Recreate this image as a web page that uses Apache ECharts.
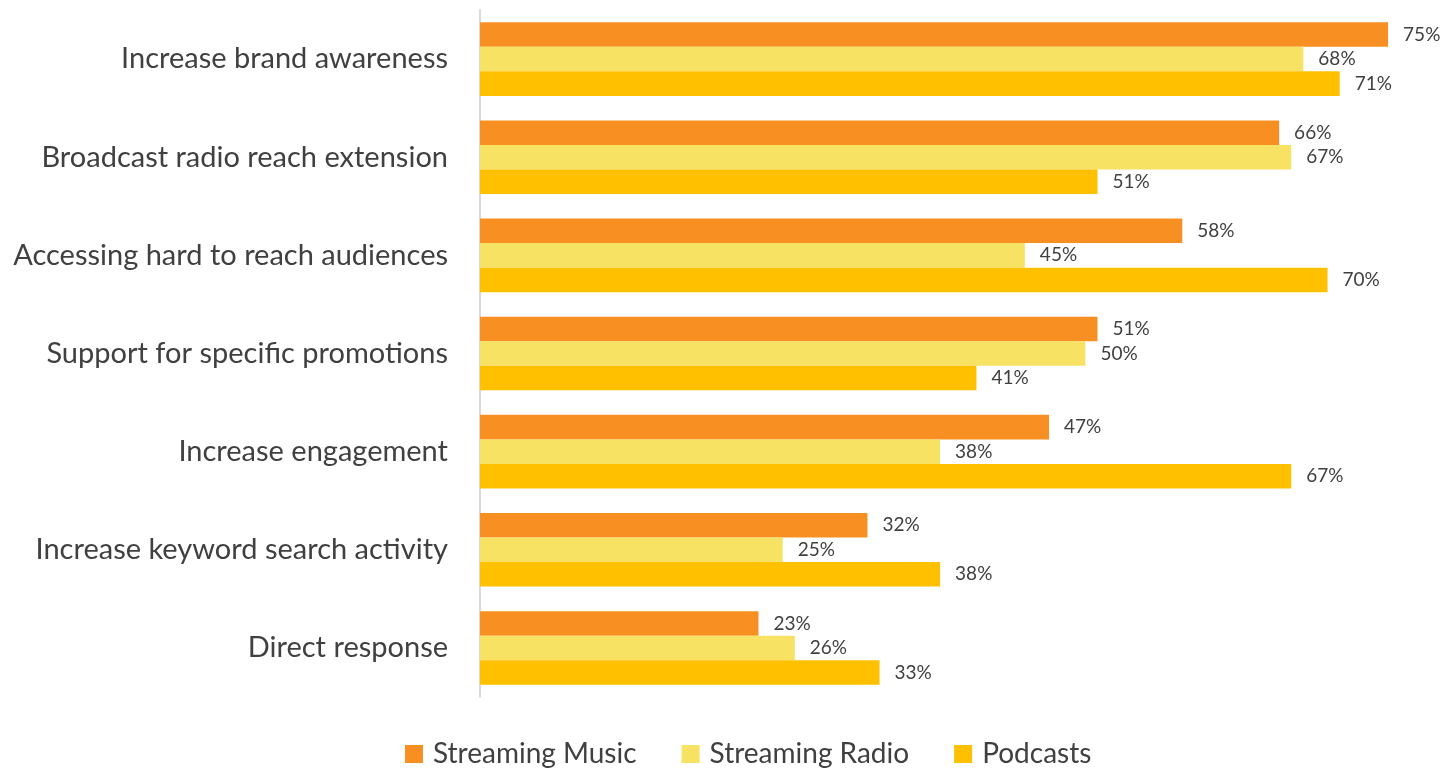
<!DOCTYPE html>
<html>
<head>
<meta charset="utf-8">
<script src="https://cdn.jsdelivr.net/npm/echarts@6/dist/echarts.min.js"></script>
<style>
  html, body { margin: 0; padding: 0; background: #fff; }
  #chart { width: 1445px; height: 770px; }
</style>
</head>
<body>
<div id="chart"></div>
<script>
// Reasons for using audio channels, share of respondents (%)
const categories = [
  'Increase brand awareness',
  'Broadcast radio reach extension',
  'Accessing hard to reach audiences',
  'Support for specific promotions',
  'Increase engagement',
  'Increase keyword search activity',
  'Direct response'
];
const streamingMusic = [75, 66, 58, 51, 47, 32, 23];
const streamingRadio = [68, 67, 45, 50, 38, 25, 26];
const podcasts       = [71, 51, 70, 41, 67, 38, 33];

const seriesNames  = ['Streaming Music', 'Streaming Radio', 'Podcasts'];
const seriesColors = ['#F78F22', '#F8E264', '#FFC000'];

const textColor = '#404040';
const fontFamily = 'Lato, "Open Sans", sans-serif';

function barSeries(name, data, color) {
  return {
    name: name,
    type: 'bar',
    data: data,
    barGap: '0%',
    barCategoryGap: '25%',
    itemStyle: { color: color },
    label: {
      show: true,
      position: 'right',
      distance: 15,
      formatter: '{c}%',
      color: textColor,
      fontSize: 19,
      fontFamily: fontFamily
    }
  };
}

const chart = echarts.init(document.getElementById('chart'));
chart.setOption({
  animation: false,
  textStyle: { fontFamily: fontFamily },
  grid: { left: 480, top: 10, right: 0, height: 687, containLabel: false },
  legend: {
    top: 735,
    left: 400,
    itemWidth: 18,
    itemHeight: 18,
    itemGap: 45,
    icon: 'rect',
    textStyle: { color: textColor, fontSize: 28, fontFamily: fontFamily, padding: [0, 0, 0, 5] },
    data: seriesNames
  },
  xAxis: {
    type: 'value',
    min: 0,
    max: 79.7,
    show: false
  },
  yAxis: {
    type: 'category',
    data: categories,
    inverse: true,
    axisLine: { show: true, lineStyle: { color: '#D9D9D9', width: 2 } },
    axisTick: { show: false },
    axisLabel: { color: textColor, fontSize: 29, margin: 32, fontFamily: fontFamily }
  },
  series: [
    barSeries(seriesNames[0], streamingMusic, seriesColors[0]),
    barSeries(seriesNames[1], streamingRadio, seriesColors[1]),
    barSeries(seriesNames[2], podcasts, seriesColors[2])
  ]
});
</script>
</body>
</html>
